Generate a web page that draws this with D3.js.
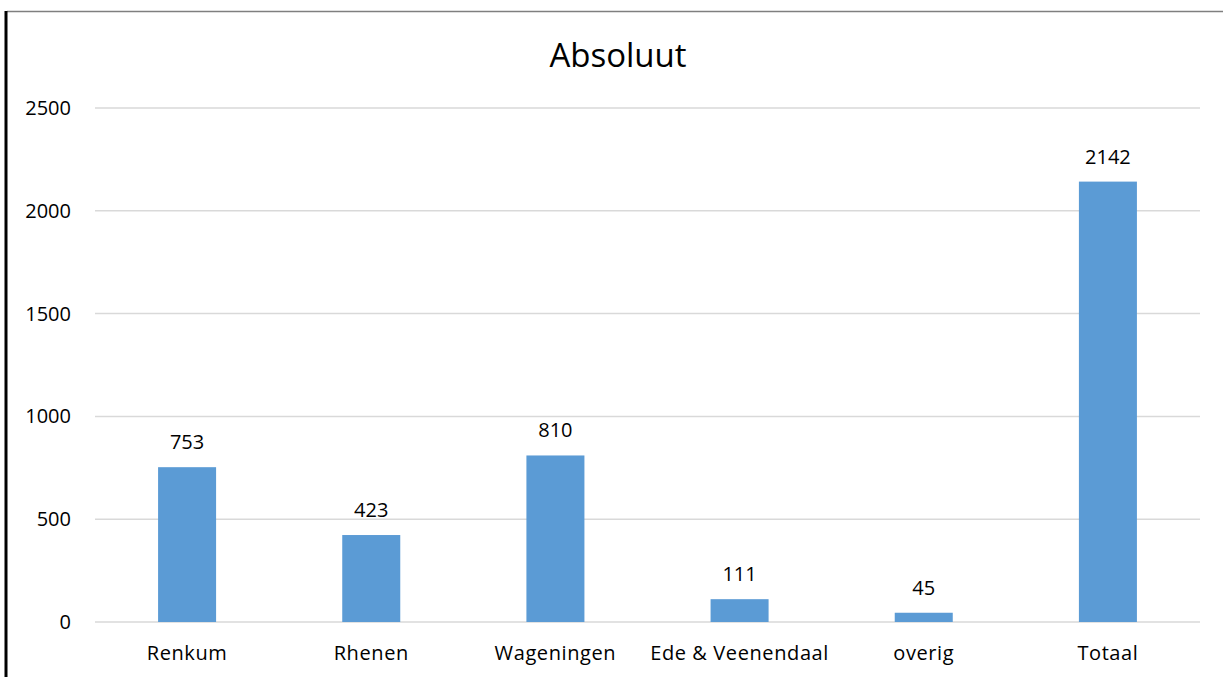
<!DOCTYPE html>
<html><head><meta charset="utf-8">
<script src="https://cdn.jsdelivr.net/npm/d3@7"></script>
<style>body{margin:0;background:#fff}svg{display:block}text{font-family:"Open Sans",sans-serif;fill:#000}</style>
</head><body>
<svg id="c" width="1223" height="677"></svg>
<script>
const categories = ["Renkum","Rhenen","Wageningen","Ede & Veenendaal","overig","Totaal"];
const values = [753,423,810,111,45,2142];
const yTicks = [0,500,1000,1500,2000,2500];
const title = "Absoluut";

const svg = d3.select("#c");
const W=1223,H=677;
const m={left:95,right:23,top:108,bottom:55};
const x=d3.scaleBand().domain(categories).range([m.left,W-m.right]).paddingInner(0.685).paddingOuter(0.3425);
const y=d3.scaleLinear().domain([0,2500]).range([622,108]);

// borders
svg.append("line").attr("x1",7).attr("x2",W).attr("y1",11.5).attr("y2",11.5).attr("stroke","#7f7f7f").attr("stroke-width",1.5);
svg.append("line").attr("x1",6).attr("x2",6).attr("y1",11).attr("y2",H).attr("stroke","#000").attr("stroke-width",3);

// gridlines
svg.append("g").selectAll("line").data(yTicks).join("line")
  .attr("x1",m.left).attr("x2",W-m.right)
  .attr("y1",d=>y(d)).attr("y2",d=>y(d))
  .attr("stroke","#d9d9d9").attr("stroke-width",1.5);

const fs="20px", ls="0.6px";
// y axis labels
const ya=svg.append("g").attr("transform",`translate(71,0)`).call(d3.axisLeft(y).tickValues(yTicks).tickFormat(d3.format("d")).tickSize(0).tickPadding(0));
ya.select(".domain").remove();
ya.selectAll("text").style("font-family","'Open Sans',sans-serif").style("font-size",fs).attr("fill","#000");

// bars
svg.append("g").selectAll("rect").data(values).join("rect")
  .attr("x",(d,i)=>x(categories[i])).attr("width",x.bandwidth())
  .attr("y",d=>y(d)).attr("height",d=>y(0)-y(d)).attr("fill","#5b9bd5");

// data labels
svg.append("g").selectAll("text").data(values).join("text")
  .attr("x",(d,i)=>x(categories[i])+x.bandwidth()/2).attr("y",d=>y(d)-18)
  .attr("text-anchor","middle").style("font-size",fs).text(d=>d);

// x axis labels
const xa=svg.append("g").attr("transform",`translate(0,${y(0)})`).call(d3.axisBottom(x).tickSize(0).tickPadding(24));
xa.select(".domain").remove();
xa.selectAll("text").style("font-family","'Open Sans',sans-serif").style("font-size",fs).style("letter-spacing",ls).attr("fill","#000");

// title
svg.append("text").attr("x",618).attr("y",67).attr("text-anchor","middle").style("font-size","33px").text(title);
</script>
</body></html>
